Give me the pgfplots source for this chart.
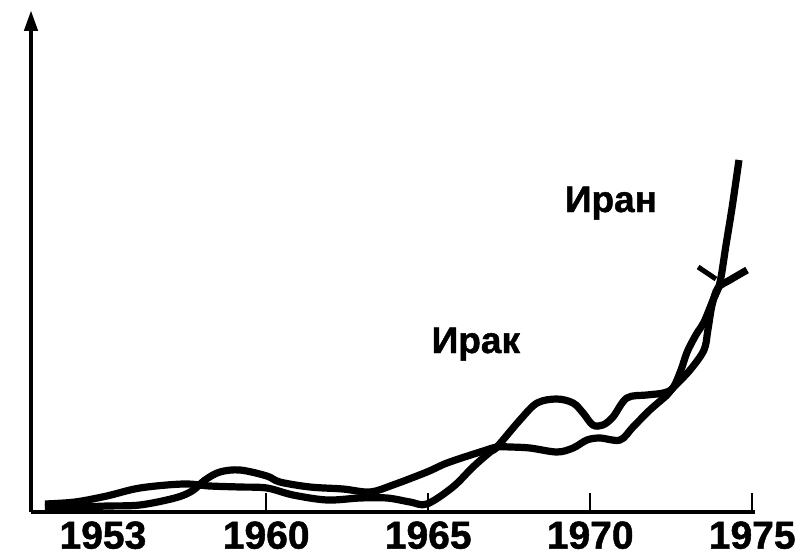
\documentclass[border=0pt]{standalone}
\usepackage{fontspec}
\setmainfont{Liberation Sans}
\newfontfamily\heavy{Liberation Sans Bold}[FakeBold=1.2]
\usepackage{pgfplots}
\pgfplotsset{compat=1.18}
\usetikzlibrary{arrows.meta}
\begin{document}
\begin{tikzpicture}
\begin{axis}[
  at={(0,0)}, anchor=south west,
  scale only axis, width=362pt, height=251pt,
  xmin=1952.74, xmax=1975.085, ymin=0, ymax=502,
  clip=false,
  axis x line=bottom, axis y line=left,
  x axis line style={line width=1.6pt,-},
  y axis line style={line width=2.2pt,-{Triangle[length=10.5pt,width=6.5pt]}},
  ytick=\empty,
  xtick={1960,1965,1970,1975},
  xticklabels={1960,1965,1970,1975},
  extra x ticks={1954.96},
  extra x tick labels={1953},
  extra x tick style={major tick length=0pt},
  tick align=inside,
  major tick length=9.5pt,
  tick style={line width=1pt,black},
  /pgf/number format/assume math mode=true,
  xticklabel style={font=\fontsize{19.5}{21}\selectfont\heavy, inner sep=4.5pt},
]
% Curve 1
\addplot[black, line width=3.6pt, smooth, tension=0.55] coordinates {
(1953.17,8) (1954.10,10) (1955.08,16) (1956.10,24) (1957.43,28) (1958.26,26)
(1959.19,25) (1960.02,24) (1960.83,17) (1961.88,12) (1962.89,14) (1963.73,14)
(1964.44,10) (1964.96,8) (1965.76,25) (1966.38,45) (1966.91,60) (1967.12,65)
(1967.83,92) (1968.36,109) (1968.97,113) (1969.47,109) (1969.78,99) (1970.08,87)
(1970.39,87) (1970.70,95) (1971.13,114) (1971.75,117) (1972.25,119) (1972.55,124)
(1972.80,142) (1972.99,160) (1973.26,177) (1973.51,190) (1973.79,212) (1974.00,229)
(1974.19,267) (1974.38,305) (1974.59,352)
};
% Curve 2
\addplot[black, line width=3.6pt, smooth, tension=0.55] coordinates {
(1953.17,5) (1954.25,5) (1955.08,6) (1956.10,7) (1957.18,14) (1957.71,21)
(1958.11,32) (1958.57,40) (1959.19,42) (1960.02,36) (1960.42,30) (1961.35,25)
(1962.37,23) (1963.20,20) (1963.91,27) (1964.96,40) (1965.58,49) (1966.60,60)
(1967.12,65) (1967.52,65) (1968.14,64) (1968.97,60) (1969.47,64) (1969.90,72)
(1970.30,74) (1970.92,72) (1971.32,85) (1971.84,102) (1972.37,117) (1972.55,124)
(1973.08,142) (1973.51,162) (1973.63,182) (1973.76,207) (1973.94,224) (1974.31,232)
(1974.84,242)
};
% short pointer stroke
\addplot[black, line width=2.5pt] coordinates {(1973.33,245) (1973.88,233)};
\node[font=\fontsize{18.5}{20}\selectfont\heavy, anchor=base] at (axis cs:1966.47,159) {Ирак};
\node[font=\fontsize{18.5}{20}\selectfont\heavy, anchor=base] at (axis cs:1970.64,300) {Иран};
\end{axis}
\pgfresetboundingbox
\path[use as bounding box] (-15.5pt,-23pt) rectangle (382.5pt,256pt);
\end{tikzpicture}
\end{document}
